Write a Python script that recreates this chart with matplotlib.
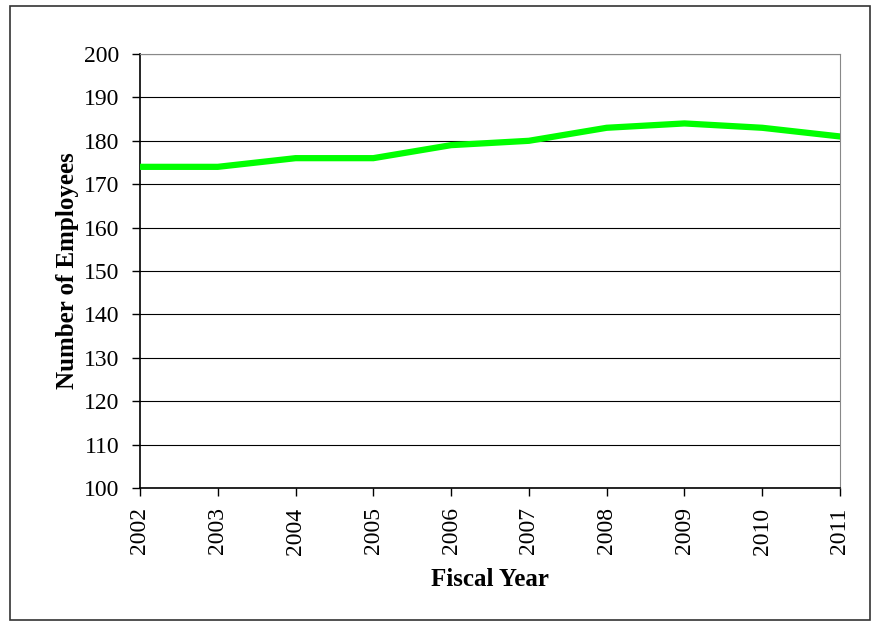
import matplotlib
matplotlib.use("Agg")
import matplotlib.pyplot as plt
from matplotlib.patches import Rectangle

years = ["2002", "2003", "2004", "2005", "2006", "2007", "2008", "2009", "2010", "2011"]
employees = [174, 174, 176, 176, 179, 180, 183, 184, 183, 181]
yticks = [100, 110, 120, 130, 140, 150, 160, 170, 180, 190, 200]

plt.rcParams['font.family'] = ['Liberation Serif', 'DejaVu Serif']

fig = plt.figure(figsize=(8.77, 6.26), dpi=100)
fig.patches.append(Rectangle((10/877, 1 - 620/626), 860/877, 614/626, transform=fig.transFigure,
                             fill=False, edgecolor='#333333', linewidth=1.2))
ax = fig.add_axes([140/877, 1 - 488/626, 700/877, 434/626])

x = list(range(len(years)))
ax.plot(x, employees, color='#00FF00', linewidth=4.5, solid_joinstyle='miter', zorder=3)

ax.set_xlim(0, len(years) - 1)
ax.set_ylim(100, 200)
ax.set_yticks(yticks)
ax.set_xticks(x)
ax.set_xticklabels(years, rotation=90)
ax.tick_params(axis='both', direction='out', length=6, width=1, color='black', labelsize=17)
ax.tick_params(axis='x', pad=8)
ax.tick_params(axis='y', pad=9)
ax.grid(axis='y', color='black', linewidth=0.8)
ax.set_axisbelow(True)
for s in ['top', 'right']:
    ax.spines[s].set_color('#888888')
for s in ['left', 'bottom']:
    ax.spines[s].set_color('black')
    ax.spines[s].set_linewidth(1.2)

ax.set_ylabel('Number of Employees', fontsize=18, fontweight='bold', labelpad=3)
ax.set_xlabel('Fiscal Year', fontsize=18, fontweight='bold', labelpad=10)

fig.savefig('out.png', dpi=100)
